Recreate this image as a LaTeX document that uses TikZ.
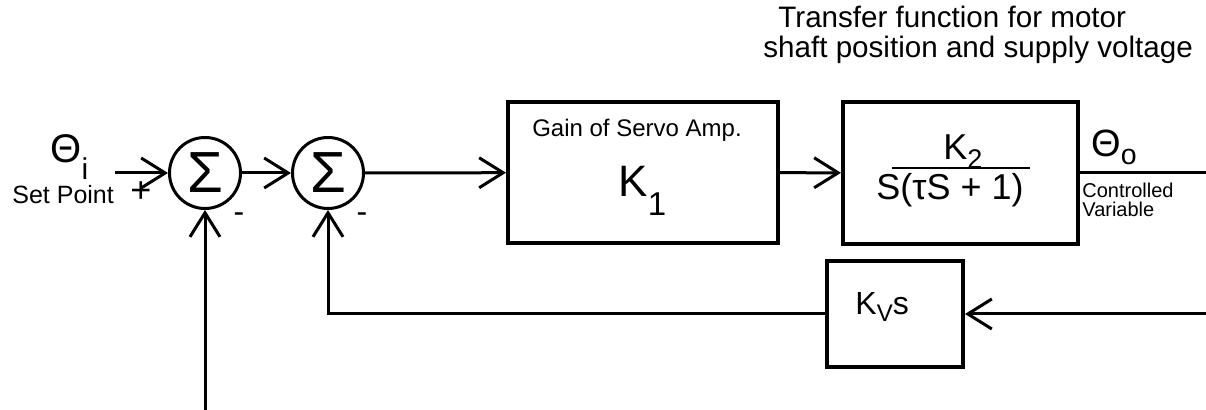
\documentclass[tikz,border=0pt]{standalone}
\usepackage{fontspec}
\setmainfont{Liberation Sans}
\usepackage{graphicx}
\usetikzlibrary{arrows.meta}
\newcommand{\lowidx}[2][.6ex]{\raisebox{-#1}{\scalebox{.75}{#2}}}
\newcommand{\fs}[1]{\fontsize{#1}{#1}\selectfont}
\tikzset{block/.style={rectangle,draw,line width=2pt,inner sep=0pt},
  sumpt/.style={circle,draw,line width=1.5pt,minimum size=35.5pt,inner sep=0pt,font=\fs{29}},
  lbl/.style={inner sep=0pt,anchor=base west},
  arrow/.style={-{Straight Barb[length=12pt,width=15pt]},line width=1.5pt},
  wire/.style={line width=1.5pt}}

\begin{document}
\begin{tikzpicture}[x=0.5pt,y=-0.5pt]
  \path[use as bounding box] (0,0) rectangle (1206,410);
  % summing points and blocks
  \node[sumpt] (s1) at (205,173) {Σ};
  \node[sumpt] (s2) at (328,173) {Σ};
  \node[block,minimum width=135pt,minimum height=70.5pt] (amp) at (643,172.5) {};
  \node[block,minimum width=117.5pt,minimum height=71pt] (motor) at (960.5,173) {};
  \node[block,minimum width=68pt,minimum height=53pt] (kv) at (895,314) {};
  \coordinate (in) at (115,173);
  \coordinate (out) at (1206,173);
  \coordinate (fb) at (1206,314);
  \coordinate (dist) at (205,410);
  % signal lines
  \draw[arrow] (in) -- (s1);
  \draw[arrow] (s1) -- (s2);
  \draw[arrow] (s2) -- (amp);
  \draw[arrow] (amp) -- (motor);
  \draw[wire] (motor) -- (out);
  \draw[arrow] (fb) -- (kv);
  \draw[arrow] (kv) -| (s2);
  \draw[arrow] (dist) -- (s1);
  % labels
  \node[lbl,font=\fs{14.8}] (title1) at (778,28) {Transfer function for motor};
  \node[lbl,font=\fs{14.8}] (title2) at (763,58) {shaft position and supply voltage};
  \node[lbl,font=\fs{20}] (thi) at (50,163) {Θ\lowidx[.8ex]{i}};
  \node[lbl,font=\fs{12.5}] (setpt) at (12,204) {Set Point};
  \node[font=\fs{18}] (plus) at (141,192) {+};
  \node[font=\fs{16}] (m1) at (239,218) {-};
  \node[font=\fs{16}] (m2) at (362,218) {-};
  \node[inner sep=0pt,anchor=base,font=\fs{12}] (gain) at (637,137) {Gain of Servo Amp.};
  \node[lbl,font=\fs{22}] (k1) at (618,197) {K\lowidx[.8ex]{1}};
  \node[lbl,font=\fs{18}] (k2) at (943,160) {K\lowidx[.45ex]{2}};
  \draw[line width=1pt] (892,168) -- (1030,168);
  \node[lbl,font=\fs{18}] (den) at (876,200) {S(τS + 1)};
  \node[lbl,font=\fs{19}] (tho) at (1091,157) {Θ\lowidx[.35ex]{o}};
  \node[inner sep=0pt,anchor=north west,align=left,font=\fontsize{10}{9.5}\selectfont] (ctrl) at (1082,183) {Controlled\\Variable};
  \node[lbl,font=\fs{16}] (kvs) at (855,315) {K\lowidx[.4ex]{V}s};
\end{tikzpicture}
\end{document}
